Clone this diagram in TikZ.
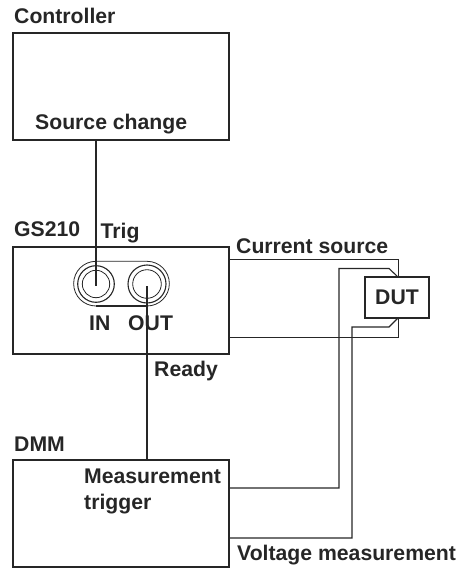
\documentclass[tikz,border=0pt]{standalone}
\usepackage{fontspec}
\setmainfont{Liberation Sans}
\begin{document}
\begin{tikzpicture}[x=1pt,y=-1pt,
  boxn/.style={draw=black!85,line width=2pt,minimum width=216pt,minimum height=107pt,inner sep=0pt,outer sep=0pt},
  lab/.style={anchor=base west,inner sep=0pt,font=\bfseries\fontsize{21.2}{24}\selectfont,text=black!85},
  wire/.style={draw=black!85,line width=1.1pt,line join=miter},
  thin ring/.style={draw=black!85,line width=0.8pt,circle,inner sep=0pt,outer sep=0pt}]
\useasboundingbox (0,0) rectangle (462,569);
% boxes
\node[boxn] (ctrl) at (121,86.5) {};
\node[boxn] (gs) at (121,300.5) {};
\node[boxn] (dmm) at (121,513.5) {};
\node[draw=black!85,line width=2pt,minimum width=64pt,minimum height=41pt,inner sep=0pt,outer sep=0pt,font=\bfseries\fontsize{21.2}{24}\selectfont,text=black!85] (dut) at (397,297.5) {DUT};
% connectors
\node[thin ring,minimum size=36.6pt,line width=1.1pt] (inb) at (96,284) {};
\node[thin ring,minimum size=27.4pt] (ina) at (96,284) {};
\node[thin ring,minimum size=38pt,line width=1.1pt] (outb) at (147,284) {};
\node[thin ring,minimum size=28.6pt] (outa) at (147,284) {};
\coordinate (pa) at (96,261.3);
\coordinate (pb) at (147,261.3);
\coordinate (pc) at (96,306);
\coordinate (pd) at (147,306);
\draw[draw=black!85,line width=0.8pt] (pa) -- (pb) arc[start angle=90,end angle=-90,radius=22.35pt];
\draw[draw=black!85,line width=0.8pt] (pc) arc[start angle=270,end angle=90,radius=22.35pt];
\draw[draw=black!85,line width=1.1pt] (pc) -- (pd);
\coordinate (intip) at (96,286);
\coordinate (outtip) at (147,286);
\draw[wire] (ctrl.south -| intip) -- (intip);
\draw[wire] (outtip) -- (dmm.north -| outtip);
\coordinate (cs1) at (229,259.3);
\coordinate (cs2) at (398,259.3);
\coordinate (cs3) at (229,337);
\coordinate (cs4) at (398,337);
\draw[wire,line width=0.95pt] (cs1) -- (cs2) -- (cs2 |- dut.north);
\draw[wire,line width=0.95pt] (cs3) -- (cs4) -- (cs4 |- dut.south);
\coordinate (v1a) at (229,488);
\coordinate (v1b) at (339,488);
\coordinate (v1c) at (339,268.5);
\coordinate (v1d) at (389,268.5);
\draw[wire] (v1a) -- (v1b) -- (v1c) -- (v1d) -- (cs2 |- dut.north);
\coordinate (v2a) at (229,538);
\coordinate (v2b) at (352,538);
\coordinate (v2c) at (352,327);
\coordinate (v2d) at (389,327);
\draw[wire] (v2a) -- (v2b) -- (v2c) -- (v2d) -- (cs2 |- dut.south);
% labels
\node[lab] (l1) at (14,24) {Controller};
\node[lab] (l2) at (35,130) {Source change};
\node[lab] (l3) at (14,236.5) {GS210};
\node[lab] (l4) at (100.5,238) {Trig};
\node[lab] (l5) at (236,253) {Current source};
\node[lab] (l6) at (89,330) {IN};
\node[lab] (l7) at (128,330) {OUT};
\node[lab] (l8) at (154,376.5) {Ready};
\node[lab] (l9) at (14,451) {DMM};
\node[lab] (l10) at (84,483) {Measurement};
\node[lab] (l11) at (84,509) {trigger};
\node[lab] (l12) at (237,560.5) {Voltage measurement};
\end{tikzpicture}
\end{document}
